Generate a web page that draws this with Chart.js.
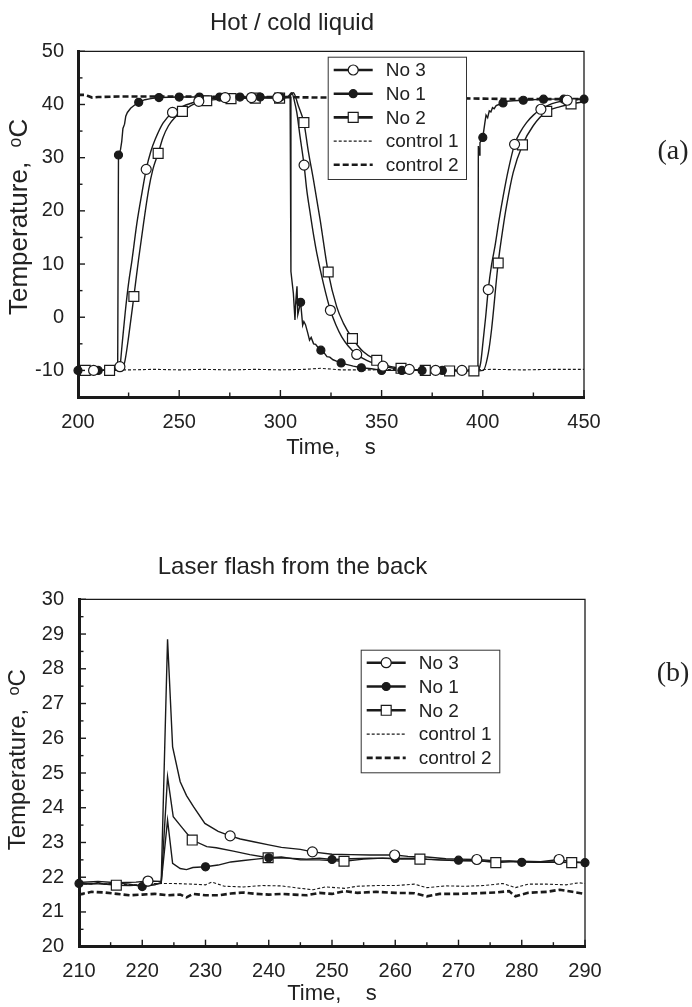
<!DOCTYPE html>
<html>
<head>
<meta charset="utf-8">
<script src="https://cdn.jsdelivr.net/npm/chart.js@4.4.1/dist/chart.umd.min.js"></script>
<style>
  body { margin: 0; background: #fff; width: 692px; height: 1007px; overflow: hidden; position: relative; }
  .panel { position: absolute; left: 0; width: 692px; }
  #topBox { top: 0; height: 500px; }
  #botBox { top: 500px; height: 507px; }
  .tag { position: absolute; font-family: 'Liberation Serif', 'Times New Roman', serif; font-size: 28px; color: #222; transform: translate(-50%, -50%); }
</style>
</head>
<body>
<div class="panel" id="topBox"><canvas id="hotChart"></canvas></div>
<div class="panel" id="botBox"><canvas id="laserChart"></canvas></div>
<div class="tag" style="left:673px; top:150px">(a)</div>
<div class="tag" style="left:673px; top:672px">(b)</div>
<script>
// ---- (a) Hot / cold liquid ----
const hotNo1Time = [200, 210, 219.6, 220, 221, 221.6, 222.2, 223, 223.6, 224.4,
  226, 228, 230, 233, 236, 240, 250, 260, 270, 280,
  290, 300, 304.8, 305.2, 306.4, 307.2, 307.6, 308.2, 308.6, 310,
  311, 311.6, 312.4, 313.4, 314.4, 315.2, 316.4, 317.4, 318.4, 320,
  321, 322, 323, 324.4, 326, 328, 330, 333, 336, 340,
  345, 350, 360, 370, 380, 390, 397.6, 397.8, 398.2, 398.6,
  400, 401, 401.6, 402.4, 403.2, 404, 404.8, 405.6, 406.6, 408,
  410, 412, 415, 420, 430, 440, 450];
const hotNo1Temp = [-10, -10, -10, 30.5, 31.5, 33, 35.5, 36.3, 37.8, 38.5,
  39.3, 39.9, 40.4, 40.9, 41.1, 41.3, 41.4, 41.4, 41.4, 41.4,
  41.4, 41.4, 41.5, 8.6, 4.5, -0.5, 3, 5.8, 0.5, 2.8,
  -1.5, -0.8, -1.4, -2.8, -4.3, -3.8, -5, -5.1, -5.6, -6.2,
  -6.3, -6.9, -7.4, -7.5, -8, -8.3, -8.6, -8.9, -9.2, -9.5,
  -9.7, -10, -10, -10, -10, -10, -10, 32.2, 30.5, 32.8,
  33.8, 36.5, 38, 37.5, 38.8, 38.6, 39.4, 39.2, 39.8, 40,
  40.3, 40.6, 40.7, 40.8, 41, 41, 41];
const hotNo1Marks = [200, 210, 220, 230, 240, 250, 260, 270, 280, 290, 300, 310, 320,
  330, 340, 350, 360, 370, 380, 390, 400, 410, 420, 430, 440, 450];

const hotNo3Time = [207.7, 215, 219, 220.7, 221.7, 223.3, 225, 226.7, 229.1, 231.6,
  233.7, 236, 238.2, 242, 246.7, 252, 259.7, 265, 272.7, 285.7,
  298.7, 303.5, 305.6, 307, 308.1, 309.7, 311.7, 313, 314.7, 316.5,
  318, 321.2, 324.7, 327.5, 330.3, 333.5, 337.7, 341, 344.3, 350.7,
  356, 363.7, 376.7, 389.7, 397.5, 398.9, 400.2, 401.4, 402.7, 404.3,
  406, 408, 410.1, 412.5, 415.7, 418.5, 421.6, 425, 428.7, 432.5,
  436.4, 441.7, 446, 450];
const hotNo3Temp = [-10, -10, -10, -9.3, -5.5, 0.8, 6.4, 10.8, 17.7, 23.4,
  27.8, 31.2, 33.5, 36.5, 38.5, 39.7, 40.6, 41, 41.3, 41.3,
  41.3, 41.4, 42.2, 40.5, 38.5, 34, 28.6, 24, 19.6, 15.2,
  12, 6.4, 1.3, -1.5, -3.7, -5.4, -7, -7.8, -8.4, -9.2,
  -9.6, -9.8, -10, -10, -10, -8.7, -4.3, 0, 5.2, 9.8,
  13.3, 18.2, 22.8, 27.5, 32.5, 34.8, 36.6, 38, 39.1, 39.9,
  40.4, 40.8, 41, 41];
const hotNo3Marks = [207.7, 220.7, 233.7, 246.7, 259.7, 272.7, 285.7, 298.7, 311.7, 324.7,
  337.7, 350.7, 363.7, 376.7, 389.7, 402.7, 415.7, 428.7, 441.7];

const hotNo2Time = [203.6, 215.6, 221.7, 223.3, 225, 227.6, 229.9, 232.4, 234.9, 237,
  239.6, 242, 244.7, 248, 251.6, 257, 263.6, 275.6, 287.6, 299.6,
  304, 306.4, 308.9, 311.6, 313.8, 316.3, 319.6, 323.6, 327.8, 331.1,
  335.6, 341, 347.6, 353, 359.6, 371.6, 383.6, 395.6, 400.2, 402.7,
  404.3, 407.6, 410.1, 411.7, 415, 419.6, 424.9, 431.6, 438.3, 443.6, 450];
const hotNo2Temp = [-10, -10, -10, -8, -3.7, 3.9, 10.8, 17.7, 24, 27.8,
  30.8, 33.8, 36, 37.6, 38.7, 40, 40.7, 41.1, 41.2, 41.2,
  41.4, 42.2, 39.7, 36.6, 31.2, 25.9, 18.4, 8.5, 2, -1.1,
  -4, -6.5, -8.1, -9.1, -9.6, -10, -10.1, -10.1, -10, -6.8,
  -2.4, 10.2, 17.1, 20.9, 27.2, 32.4, 36, 38.7, 39.6, 40.1, 40.5];
const hotNo2Marks = [203.6, 215.6, 227.6, 239.6, 251.6, 263.6, 275.6, 287.6, 299.6, 311.6,
  323.6, 335.6, 347.6, 359.6, 371.6, 383.6, 395.6, 407.6, 419.6, 431.6, 443.6];

const hotCtrl1Time = [200, 212, 225, 238, 250, 262, 275, 288, 300, 312, 320, 330, 345, 360, 375, 390, 405, 420, 435, 450];
const hotCtrl1Temp = [-10, -9.9, -9.9, -9.8, -9.9, -9.8, -9.9, -9.8, -9.9, -9.8, -9.6, -9.9, -9.9, -9.8, -9.9, -9.9, -9.8, -9.9, -9.8, -9.8];
const hotCtrl2Time = [200, 203, 205, 207, 210, 220, 240, 260, 280, 300, 320, 340, 360, 380, 400, 420, 440, 450];
const hotCtrl2Temp = [41.8, 41.8, 41.6, 41.3, 41.4, 41.5, 41.5, 41.5, 41.4, 41.4, 41.3, 41.3, 41.3, 41.2, 41.1, 41, 41, 41];

// ---- (b) Laser flash from the back ----
const laserNo1Time = [210, 212, 213, 214, 216, 218, 220, 222, 223, 224,
  224.8, 226, 227, 228, 230, 232, 234, 236, 238, 240,
  243, 246, 248, 250, 253, 256, 260, 263, 265, 267,
  270, 273, 276, 278, 280, 283, 286, 288, 290];
const laserNo1Temp = [21.82, 21.8, 21.85, 21.8, 21.83, 21.8, 21.73, 21.78, 21.85, 23.64,
  22.4, 22.25, 22.22, 22.28, 22.3, 22.35, 22.44, 22.48, 22.52, 22.56,
  22.55, 22.52, 22.55, 22.51, 22.53, 22.55, 22.54, 22.55, 22.52, 22.5,
  22.49, 22.47, 22.45, 22.47, 22.43, 22.45, 22.42, 22.44, 22.42];
const laserNo1Marks = [210, 220, 230, 240, 250, 260, 270, 280, 290];

const laserNo3Time = [210, 213, 216, 219, 220.9, 223, 224, 224.8, 226, 227,
  228.1, 229.9, 232, 233.9, 235.5, 237.6, 240, 242, 245, 246.9,
  250, 253, 256, 259.9, 262, 265, 268, 270, 272.9, 276,
  280, 283, 285.9, 288, 290];
const laserNo3Temp = [21.85, 21.88, 21.84, 21.86, 21.89, 21.88, 28.85, 25.75, 24.75, 24.35,
  24.03, 23.55, 23.32, 23.19, 23.1, 23.02, 22.93, 22.86, 22.8, 22.73,
  22.66, 22.65, 22.64, 22.64, 22.6, 22.58, 22.53, 22.52, 22.51, 22.47,
  22.46, 22.45, 22.51, 22.44, 22.42];
const laserNo3Marks = [220.9, 233.9, 246.9, 259.9, 272.9, 285.9];

const laserNo2Time = [210, 212, 214, 215.9, 218, 220, 222, 223, 224, 224.9,
  226.2, 227.9, 230.2, 231.7, 234.4, 237, 239.9, 242, 245, 248,
  251.9, 255, 258, 261, 263.9, 267, 270, 273, 275.9, 279,
  282, 285, 287.9, 290];
const laserNo2Temp = [21.8, 21.82, 21.8, 21.77, 21.76, 21.78, 21.8, 21.82, 24.89, 23.74,
  23.45, 23.07, 22.88, 22.85, 22.75, 22.65, 22.56, 22.58, 22.5, 22.5,
  22.46, 22.52, 22.55, 22.52, 22.52, 22.5, 22.47, 22.48, 22.42, 22.45,
  22.43, 22.44, 22.42, 22.42];
const laserNo2Marks = [215.9, 227.9, 239.9, 251.9, 263.9, 275.9, 287.9];

const laserCtrl1Time = [210, 213, 216, 219, 222, 225, 228, 230, 231, 233,
  236, 239, 242, 245, 247, 249, 252, 254, 257, 260,
  263, 265, 268, 271, 274, 277, 279, 281, 284, 287, 289, 290];
const laserCtrl1Temp = [21.8, 21.82, 21.8, 21.78, 21.82, 21.82, 21.8, 21.78, 21.86, 21.74,
  21.72, 21.76, 21.75, 21.68, 21.64, 21.72, 21.68, 21.74, 21.76, 21.76,
  21.8, 21.7, 21.75, 21.74, 21.76, 21.82, 21.7, 21.8, 21.8, 21.78, 21.84, 21.82];
const laserCtrl2Time = [210, 212, 214, 216, 218, 220, 222, 224, 226, 227,
  228, 230, 232, 234, 236, 238, 240, 242, 244, 246,
  248, 250, 252, 254, 257, 260, 263, 265, 267, 270,
  273, 276, 278, 279, 281, 284, 286, 288, 290];
const laserCtrl2Temp = [21.5, 21.58, 21.56, 21.52, 21.48, 21.5, 21.52, 21.48, 21.5, 21.42,
  21.52, 21.48, 21.48, 21.53, 21.56, 21.52, 21.5, 21.52, 21.5, 21.48,
  21.55, 21.52, 21.6, 21.55, 21.58, 21.55, 21.54, 21.45, 21.52, 21.52,
  21.54, 21.56, 21.6, 21.45, 21.55, 21.58, 21.64, 21.58, 21.52];

const legendOrder = ['no3', 'no1', 'no2', 'ctrl1', 'ctrl2'];

const INK = '#1a1a1a';
Chart.defaults.font.family = "'Liberation Sans', Arial, sans-serif";
Chart.defaults.color = '#222';

const seriesStyle = {
  no3:   { label: 'No 3', width: 1.4, legendWidth: 2.6, dash: [], marker: 'circle', r: 5, fill: '#fff' },
  no1:   { label: 'No 1', width: 1.4, legendWidth: 2.6, dash: [], marker: 'circle', r: 4, fill: INK },
  no2:   { label: 'No 2', width: 1.4, legendWidth: 2.6, dash: [], marker: 'rect', r: 7, fill: '#fff' },
  ctrl1: { label: 'control 1', width: 1.1, legendWidth: 1.3, dash: [3, 2] },
  ctrl2: { label: 'control 2', width: 2.6, legendWidth: 2.6, dash: [6, 3] }
};

function seriesSets(key, times, temps, marks, smooth) {
  const st = seriesStyle[key];
  const data = times.map((t, i) => ({ x: t, y: temps[i] }));
  const sets = [{
    label: st.label, data, borderColor: INK, borderWidth: st.width, borderDash: st.dash,
    pointRadius: 0, tension: 0, cubicInterpolationMode: smooth ? 'monotone' : 'default', order: 2
  }];
  if (marks) {
    sets.push({
      label: st.label, data, showLine: false, clip: false, order: 1,
      pointStyle: st.marker, pointBackgroundColor: st.fill, pointBorderColor: INK, pointBorderWidth: 1.2,
      pointRadius: c => marks.includes(c.raw.x) ? st.r : 0
    });
  }
  return sets;
}

function drawMarker(ctx, st, x, y) {
  ctx.beginPath();
  if (st.marker === 'rect') {
    const h = st.r * Math.SQRT1_2;
    ctx.rect(x - h, y - h, 2 * h, 2 * h);
  } else {
    ctx.arc(x, y, st.r, 0, Math.PI * 2);
  }
  ctx.fillStyle = st.fill;
  ctx.fill();
  ctx.lineWidth = 1.2;
  ctx.stroke();
}

// frame top/right + inward tick marks on bottom and left
const innerTicks = {
  id: 'innerTicks',
  afterDraw(chart) {
    const { ctx, chartArea: a, scales } = chart;
    ctx.save();
    ctx.strokeStyle = INK;
    ctx.lineWidth = 1.3;
    ctx.beginPath();
    ctx.moveTo(a.left, a.top); ctx.lineTo(a.right, a.top); ctx.lineTo(a.right, a.bottom);
    ctx.stroke();
    ctx.lineWidth = 1.4;
    ['x', 'y'].forEach(id => {
      const s = scales[id];
      const major = s.ticks.map(t => t.value);
      const minor = [];
      for (let i = 1; i < major.length; i++) minor.push((major[i - 1] + major[i]) / 2);
      const draw = (v, len) => {
        const p = s.getPixelForValue(v);
        ctx.beginPath();
        if (id === 'x') { ctx.moveTo(p, a.bottom); ctx.lineTo(p, a.bottom - len); }
        else { ctx.moveTo(a.left, p); ctx.lineTo(a.left + len, p); }
        ctx.stroke();
      };
      major.forEach(v => draw(v, 7));
      minor.forEach(v => draw(v, 4.5));
    });
    ctx.restore();
  }
};

const boxLegend = {
  id: 'boxLegend',
  afterDraw(chart, args, o) {
    const { ctx, chartArea } = chart;
    const x0 = chartArea.left + o.dx, y0 = chartArea.top + o.dy;
    ctx.save();
    ctx.fillStyle = '#fff';
    ctx.fillRect(x0, y0, o.w, o.h);
    ctx.strokeStyle = '#333';
    ctx.lineWidth = 1;
    ctx.strokeRect(x0 + 0.5, y0 + 0.5, o.w, o.h);
    ctx.strokeStyle = INK;
    legendOrder.forEach((key, i) => {
      const st = seriesStyle[key];
      const y = y0 + o.firstRow + i * o.rowStep;
      ctx.setLineDash(st.dash);
      ctx.lineWidth = st.legendWidth;
      ctx.beginPath();
      ctx.moveTo(x0 + 6, y); ctx.lineTo(x0 + 45, y);
      ctx.stroke();
      ctx.setLineDash([]);
      if (st.marker) drawMarker(ctx, st, x0 + 25.5, y);
      ctx.fillStyle = '#222';
      ctx.font = "19px 'Liberation Sans', Arial, sans-serif";
      ctx.textBaseline = 'middle';
      ctx.fillText(st.label, x0 + 58, y + 1);
    });
    ctx.restore();
  }
};

function makeChart(id, c) {
  return new Chart(document.getElementById(id), {
    type: 'line',
    data: { datasets: c.datasets },
    options: {
      responsive: true,
      maintainAspectRatio: false,
      animation: false,
      events: [],
      layout: { padding: { left: 0, right: c.padRight, top: 0, bottom: 0 } },
      scales: {
        x: {
          type: 'linear', min: c.xMin, max: c.xMax,
          ticks: { stepSize: c.xStep, padding: 5, font: { size: 20 }, color: '#222', maxRotation: 0, autoSkip: false, includeBounds: false },
          grid: { display: false },
          border: { width: 3, color: INK },
          title: { display: true, text: 'Time,    s', font: { size: 22 }, color: '#222', padding: { top: 0, bottom: c.xTitlePad } },
          afterFit: s => { s.height = c.xHeight; }
        },
        y: {
          type: 'linear', min: c.yMin, max: c.yMax,
          ticks: { stepSize: c.yStep, padding: c.yTickPad, font: { size: 20 }, color: '#222', autoSkip: false, includeBounds: false },
          grid: { display: false },
          border: { width: 3, color: INK },
          title: { display: true, text: c.yTitle, font: { size: c.yTitleSize }, color: '#222', padding: { top: 4, bottom: 0 } },
          afterFit: s => { s.width = c.yWidth; }
        }
      },
      plugins: {
        legend: { display: false },
        tooltip: { enabled: false },
        title: { display: true, text: c.title, font: { size: 24, weight: 'normal' }, color: '#222', padding: c.titlePad },
        boxLegend: c.legendBox
      }
    },
    plugins: [innerTicks, boxLegend]
  });
}

makeChart('hotChart', {
  title: 'Hot / cold liquid',
  titlePad: { top: 9, bottom: 13.5 },
  datasets: [
    ...seriesSets('no3', hotNo3Time, hotNo3Temp, hotNo3Marks, true),
    ...seriesSets('no1', hotNo1Time, hotNo1Temp, hotNo1Marks, false),
    ...seriesSets('no2', hotNo2Time, hotNo2Temp, hotNo2Marks, true),
    ...seriesSets('ctrl1', hotCtrl1Time, hotCtrl1Temp, null, false),
    ...seriesSets('ctrl2', hotCtrl2Time, hotCtrl2Temp, null, false)
  ],
  xMin: 200, xMax: 450, xStep: 50, xHeight: 103, xTitlePad: 39,
  yMin: -15, yMax: 50, yStep: 10, yWidth: 78, yTickPad: 6,
  yTitle: '  Temperature,  ᵒC', yTitleSize: 26,
  padRight: 108,
  legendBox: { dx: 249.7, dy: 5.4, w: 138.3, h: 122.3, firstRow: 13.3, rowStep: 23.7 }
});

makeChart('laserChart', {
  title: 'Laser flash from the back',
  titlePad: { top: 52.6, bottom: 17.9 },
  datasets: [
    ...seriesSets('no3', laserNo3Time, laserNo3Temp, laserNo3Marks, false),
    ...seriesSets('no1', laserNo1Time, laserNo1Temp, laserNo1Marks, false),
    ...seriesSets('no2', laserNo2Time, laserNo2Temp, laserNo2Marks, false),
    ...seriesSets('ctrl1', laserCtrl1Time, laserCtrl1Temp, null, false),
    ...seriesSets('ctrl2', laserCtrl2Time, laserCtrl2Temp, null, false)
  ],
  xMin: 210, xMax: 290, xStep: 10, xHeight: 60.3, xTitlePad: 0,
  yMin: 20, yMax: 30, yStep: 1, yWidth: 79, yTickPad: 7,
  yTitle: '    Temperature,  ᵒC', yTitleSize: 24,
  padRight: 107,
  legendBox: { dx: 281.7, dy: 50.4, w: 138.6, h: 122.6, firstRow: 13, rowStep: 23.8 }
});
</script>
</body>
</html>
